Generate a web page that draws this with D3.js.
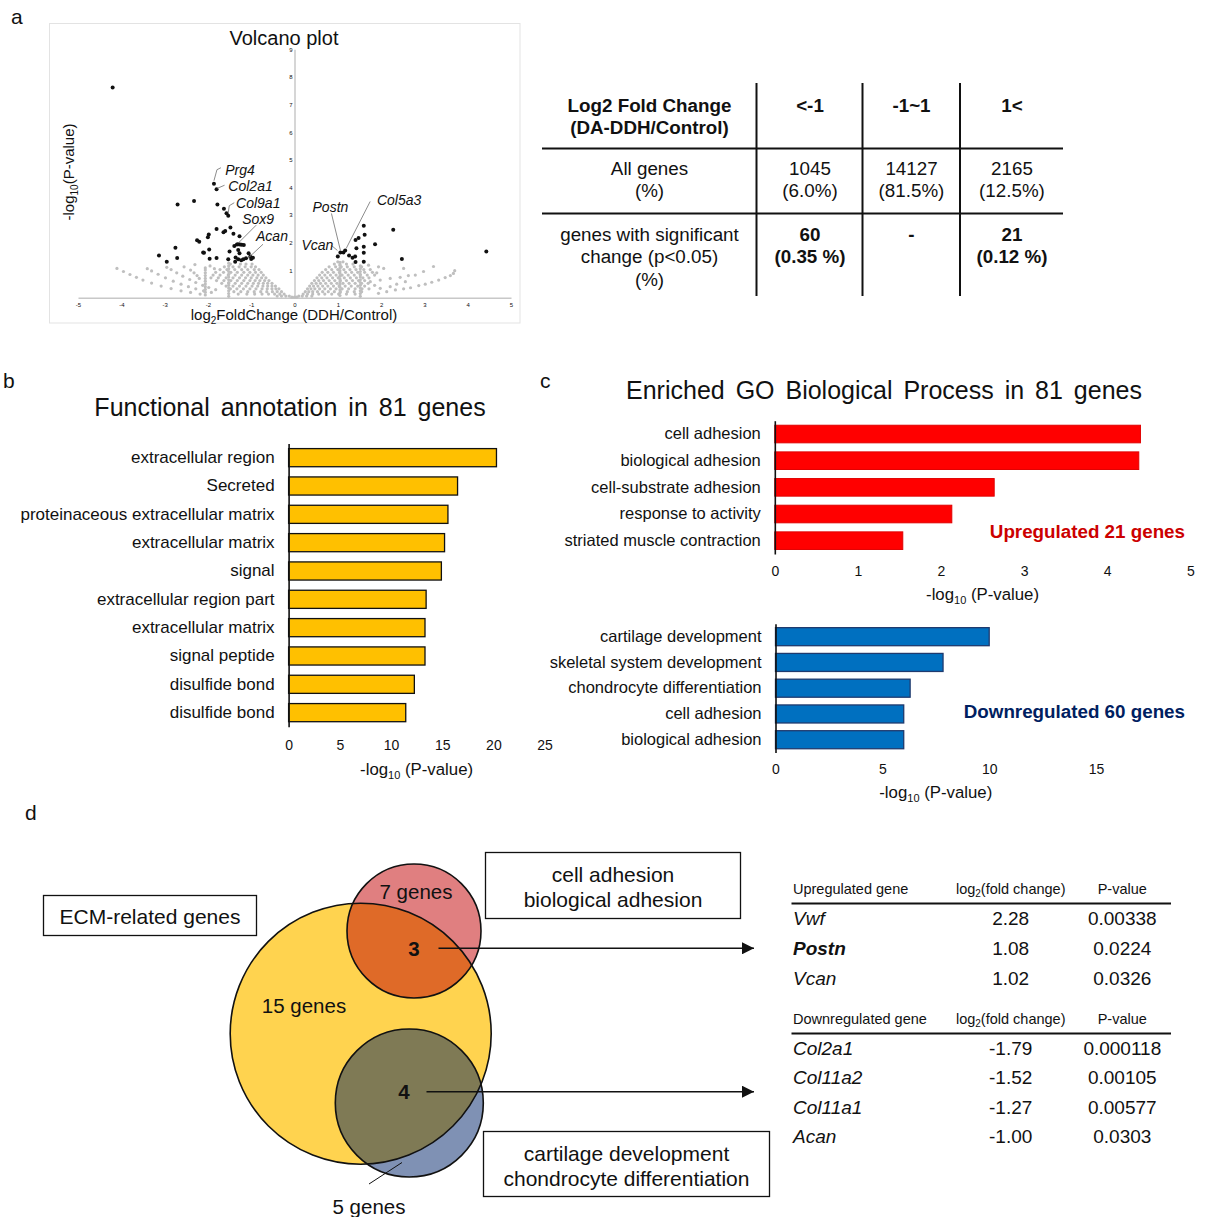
<!DOCTYPE html>
<html><head><meta charset="utf-8">
<script src="https://cdn.jsdelivr.net/npm/d3@7"></script>
<style>
body{margin:0;background:#fff;}
svg text{font-family:"Liberation Sans",Arial,sans-serif;fill:#111;}
</style>
</head><body>
<svg id="fig" width="1206" height="1217"></svg>
<script>
// ---------- Panel a: volcano plot ----------
// significant genes [log2FC, -log10 p]
const volcanoSig = [
  [-4.20,7.62],[-2.70,3.38],[-2.32,3.50],[-1.86,4.13],[-1.80,3.93],[-1.78,3.38],[-1.63,3.22],
  [-1.57,3.06],[-1.53,2.97],[-1.80,2.49],[-1.64,2.37],[-1.60,2.42],[-1.48,2.54],[-1.41,2.32],
  [-1.27,2.23],[-1.98,2.29],[-2.00,2.19],[-2.25,2.08],[-2.20,2.03],[-2.75,1.81],[-3.13,1.53],
  [-2.95,1.30],[-2.71,1.44],[-2.11,1.64],[-2.09,1.63],[-1.97,1.75],[-1.96,1.41],[-1.80,1.44],
  [-1.53,1.39],[-1.50,1.67],[-1.39,1.87],[-1.33,1.93],[-1.30,1.94],[-1.26,1.93],[-1.22,1.92],
  [-1.17,1.91],[-1.30,1.73],[-1.27,1.61],[-1.36,1.46],[-1.37,1.30],[-1.30,1.39],[-1.23,1.36],
  [-1.18,1.39],[-1.12,1.43],[-1.06,1.61],[-1.02,1.49],[-1.00,1.40],[-0.96,1.45],
  [1.00,1.49],[1.06,1.64],[1.13,1.64],[1.17,1.71],[1.26,1.53],[1.34,1.45],[1.41,2.09],
  [1.48,2.16],[1.60,2.61],[1.62,2.28],[1.43,1.79],[1.60,1.85],[1.60,1.63],[1.40,1.49],
  [1.41,1.29],[1.60,1.30],[1.86,1.94],[2.28,2.46],[2.48,1.40],[4.43,1.67]
];
// non-significant genes, listed by rows of equal -log10 p: [y, [x...]]
const volcanoBgRows = [
  [1.22,[-1.48,-1.25,-1.12,-0.98]],
  [1.12,[-1.62,-1.42,-1.28,-1.14,-1.0,-0.9]],
  [1.02,[-1.72,-1.56,-1.38,-1.22,-1.08,-0.93,-0.82]],
  [0.92,[-1.82,-1.64,-1.47,-1.32,-1.17,-1.03,-0.9,-0.77]],
  [0.82,[-1.88,-1.72,-1.53,-1.37,-1.22,-1.08,-0.96,-0.84,-0.72]],
  [0.72,[-1.93,-1.76,-1.58,-1.42,-1.27,-1.13,-1.0,-0.87,-0.76,-0.66]],
  [0.62,[-1.8,-1.63,-1.47,-1.32,-1.17,-1.03,-0.91,-0.8,-0.69,-0.59]],
  [0.52,[-1.68,-1.52,-1.37,-1.22,-1.08,-0.95,-0.83,-0.72,-0.62,-0.52]],
  [0.42,[-1.58,-1.42,-1.27,-1.12,-0.98,-0.85,-0.73,-0.62,-0.52,-0.44]],
  [0.32,[-1.48,-1.33,-1.18,-1.03,-0.89,-0.75,-0.63,-0.52,-0.43,-0.36]],
  [0.22,[-1.4,-1.24,-1.08,-0.93,-0.78,-0.64,-0.51,-0.4,-0.3]],
  [0.13,[-1.3,-1.1,-0.92,-0.75,-0.6,-0.46,-0.34,-0.24]],
  [0.06,[-0.4,-0.3,-0.2,-0.12]],
  [1.30,[1.0,1.12]],
  [1.22,[0.92,1.05,1.2,1.35]],
  [1.12,[0.8,0.95,1.08,1.22,1.38,1.55]],
  [1.02,[0.72,0.86,1.0,1.14,1.28,1.42,1.6,1.75]],
  [0.92,[0.64,0.77,0.9,1.04,1.18,1.32,1.46,1.62,1.8]],
  [0.82,[0.58,0.7,0.83,0.96,1.1,1.24,1.38,1.52,1.68,1.85]],
  [0.72,[0.52,0.63,0.75,0.88,1.01,1.15,1.29,1.43,1.58,1.72]],
  [0.62,[0.46,0.56,0.67,0.8,0.93,1.06,1.2,1.34,1.48,1.62]],
  [0.52,[0.4,0.5,0.6,0.72,0.85,0.98,1.12,1.26,1.4,1.55,1.7]],
  [0.42,[0.35,0.44,0.54,0.65,0.77,0.9,1.03,1.17,1.31,1.46,1.62]],
  [0.32,[0.3,0.38,0.47,0.58,0.7,0.83,0.96,1.1,1.25,1.4,1.56,1.72]],
  [0.22,[0.25,0.33,0.42,0.53,0.65,0.78,0.92,1.06,1.22,1.38,1.55]],
  [0.13,[0.2,0.3,0.42,0.56,0.7,0.86,1.02,1.2,1.4]],
  [0.06,[0.1,0.18,0.28,0.4]],
  [0.02,[-0.06,0.0,0.05]]
];
// vertical streaks of genes sharing one fold change: [x, [y...]]
const volcanoBgCols = [
  [-2.06,[0.1,0.2,0.3,0.4,0.5,0.6,0.7,0.8,0.9,1.0,1.08]],
  [-1.52,[0.05,0.15,0.25,0.35,0.45,0.55,0.65,0.75,0.85,0.95,1.05,1.15,1.25]],
  [1.05,[0.08,0.18,0.28,0.38,0.48,0.58,0.68,0.78,0.88,0.98,1.08,1.18,1.28]],
  [1.52,[0.05,0.15,0.25,0.35,0.45,0.55,0.65,0.75,0.85,0.95,1.05,1.15]]
];
// sparse outer genes
const volcanoBgOuter = [
  [-4.10,1.06],[-3.95,0.95],[-3.80,0.84],[-3.65,0.74],[-3.50,0.64],[-3.30,0.53],[-3.08,0.42],
  [-2.85,0.33],[-2.62,0.25],[-2.40,0.19],[-2.18,0.13],
  [-3.40,1.05],[-3.30,0.97],[-3.15,0.85],[-2.98,0.72],[-2.80,0.60],[-2.62,0.49],[-2.45,0.40],
  [-2.28,0.32],[-2.10,0.25],[-1.92,0.19],
  [-2.95,1.10],[-2.85,1.02],[-2.72,0.90],[-2.58,0.78],[-2.42,0.66],[-2.28,0.55],[-2.12,0.45],
  [-1.98,0.37],[-1.82,0.29],
  [-2.55,1.12],[-2.40,1.00],[-2.32,0.90],[-2.25,0.80],[-2.20,0.70],[-2.30,1.20],[-1.95,1.15],[-1.85,1.05],
  [1.94,0.16],[2.13,0.22],[2.33,0.28],[2.52,0.32],[2.68,0.36],[2.87,0.44],[3.02,0.49],[3.17,0.56],
  [3.33,0.64],[3.48,0.73],[3.60,0.80],[3.67,0.88],[3.70,0.98],
  [1.75,0.58],[1.98,0.64],[2.21,0.70],[2.44,0.74],[2.63,0.80],[2.79,0.82],[2.98,0.95],[3.21,1.13],[2.52,1.06],
  [1.98,0.34],[2.21,0.40],[2.36,0.49],[2.56,0.58],[1.94,1.12],[1.71,1.18],[2.06,1.06],[1.85,0.45],[1.9,0.9]
];
const volcanoXTicks = [-5,-4,-3,-2,-1,0,1,2,3,4,5];
const volcanoYTicks = [1,2,3,4,5,6,7,8,9];
// labelled genes and the point each label refers to
const labelledGenes = [
  {gene:"Prg4",   fc:-1.86, p:4.13},
  {gene:"Col2a1", fc:-1.80, p:3.93},
  {gene:"Col9a1", fc:-1.53, p:2.97},
  {gene:"Sox9",   fc:-1.30, p:1.94},
  {gene:"Acan",   fc:-1.12, p:1.43},
  {gene:"Postn",  fc:1.13,  p:1.64},
  {gene:"Col5a3", fc:1.17,  p:1.71},
  {gene:"Vcan",   fc:1.06,  p:1.64}
];

// ---------- Panel a: count table ----------
const fcHeader = ["Log2 Fold Change|(DA-DDH/Control)", "<-1", "-1~1", "1<"];
const allGenes = ["All genes|(%)", "1045|(6.0%)", "14127|(81.5%)", "2165|(12.5%)"];
const sigGenes = ["genes with significant|change (p<0.05)|(%)", "60|(0.35 %)", "-", "21|(0.12 %)"];

// ---------- Panel b: functional annotation ----------
const annotTerms = ["extracellular region","Secreted","proteinaceous extracellular matrix","extracellular matrix",
  "signal","extracellular region part","extracellular matrix ","signal peptide","disulfide bond","disulfide bond "];
const annotValues = [20.3,16.5,15.56,15.23,14.92,13.43,13.32,13.32,12.28,11.44];
const annotTicks = [0,5,10,15,20,25];

// ---------- Panel c: GO biological process ----------
const upTerms = ["cell adhesion","biological adhesion","cell-substrate adhesion","response to activity","striated muscle contraction"];
const upValues = [4.40,4.38,2.64,2.13,1.54];
const upTicks = [0,1,2,3,4,5];
const downTerms = ["cartilage development","skeletal system development","chondrocyte differentiation","cell adhesion","biological adhesion"];
const downValues = [10.0,7.84,6.3,6.0,6.0];
const downTicks = [0,5,10,15];

// ---------- Panel d: Venn counts and gene tables ----------
const vennLabels = {ecm:"15 genes", adhesion:"7 genes", adhesionShared:"3", cartilageShared:"4", cartilage:"5 genes"};
const tableCols = ["log2(fold change)", "P-value"];
const upGenes = ["Vwf","Postn","Vcan"];
const upFC = [2.28,1.08,1.02];
const upP = ["0.00338","0.0224","0.0326"];
const downGenes = ["Col2a1","Col11a2","Col11a1","Acan"];
const downFC = [-1.79,-1.52,-1.27,-1.00];
const downP = ["0.000118","0.00105","0.00577","0.0303"];

// =====================================================
const svg = d3.select("#fig");
const FONT = "Liberation Sans, Arial, sans-serif";

function textParts(sel, parts, subSize){
  // parts: [[text, isSubscript], ...]
  parts.forEach(([t, s], i) => {
    const ts = sel.append("tspan").text(t);
    if (s) ts.attr("font-size", subSize).attr("dy", 4);
    else if (i > 0 && parts[i-1][1]) ts.attr("dy", -4);
  });
  return sel;
}

// panel letters
[["a",11,24],["b",3,388],["c",540,388],["d",25,820]].forEach(([t,x,y]) =>
  svg.append("text").attr("x",x).attr("y",y).attr("font-size",21).text(t));

// ---------- volcano ----------
{
  const g = svg.append("g");
  g.append("rect").attr("x",49.5).attr("y",23.5).attr("width",470.5).attr("height",299.5)
    .attr("fill","none").attr("stroke","#e3e3e3");
  const x = d3.scaleLinear().domain([-5,5]).range([78,511]);
  const y = d3.scaleLinear().domain([0,9]).range([297.7,49.3]);

  const xa = g.append("g").attr("transform","translate(0,297.7)")
    .call(d3.axisBottom(x).tickValues(volcanoXTicks).tickSize(0).tickPadding(5).tickFormat(d=>String(d)));
  xa.select(".domain").attr("stroke","#c8c8c8").attr("stroke-width",1.5);
  xa.selectAll("text").attr("font-size",6).attr("fill","#9a9a9a").attr("font-family",FONT);

  const ya = g.append("g").attr("transform",`translate(${x(0)},0)`)
    .call(d3.axisLeft(y).tickValues(volcanoYTicks).tickSize(0).tickPadding(2).tickFormat(d=>String(d)));
  ya.select(".domain").attr("stroke","#c8c8c8").attr("stroke-width",1.5);
  ya.selectAll("text").attr("font-size",6).attr("fill","#9a9a9a").attr("font-family",FONT);

  const bg = [];
  volcanoBgRows.forEach(([yy, xs]) => xs.forEach(xx => bg.push([xx, yy])));
  volcanoBgCols.forEach(([xx, ys]) => ys.forEach(yy => bg.push([xx, yy])));
  volcanoBgOuter.forEach(p => bg.push(p));
  g.append("g").selectAll("circle").data(bg).join("circle")
    .attr("cx",d=>x(d[0])).attr("cy",d=>y(d[1])).attr("r",1.6).attr("fill","#bfbfbf");
  g.append("g").selectAll("circle").data(volcanoSig).join("circle")
    .attr("cx",d=>x(d[0])).attr("cy",d=>y(d[1])).attr("r",2).attr("fill","#111");

  // gene labels with leader lines (offsets from the labelled point)
  const labelLayout = {
    Prg4:   {dx:26, dy:-14, ldr:[[0,-3],[3,-14],[7,-16]]},
    Col2a1: {dx:34, dy:-3,  ldr:[[1,-1],[8,-4]]},
    Col9a1: {dx:30, dy:-13, ldr:[[0,-3],[1,-10],[6,-13]]},
    Sox9:   {dx:20, dy:-25.5, ldr:[[0,-1],[18,-19]]},
    Acan:   {dx:26, dy:-22, ldr:[[2,0],[17,-14]]},
    Postn:  {dx:-13,dy:-45, ldr:[[-3,-2],[-12,-39]]},
    Col5a3: {dx:54, dy:-51, ldr:[[1,-2],[25,-49]]},
    Vcan:   {dx:-23,dy:-7,  ldr:[[-3,-2],[-9,-7]]}
  };
  labelledGenes.forEach(d => {
    const L = labelLayout[d.gene], px = x(d.fc), py = y(d.p);
    g.append("path").attr("d", d3.line()(L.ldr.map(([a,b]) => [px+a, py+b])))
      .attr("fill","none").attr("stroke","#7f7f7f").attr("stroke-width",0.9);
    g.append("text").attr("x",px+L.dx).attr("y",py+L.dy).attr("text-anchor","middle")
      .attr("dominant-baseline","central").attr("font-size",14).attr("font-style","italic").text(d.gene);
  });

  g.append("text").attr("x",284).attr("y",45).attr("text-anchor","middle").attr("font-size",20).text("Volcano plot");
  textParts(g.append("text").attr("x",294).attr("y",320).attr("text-anchor","middle").attr("font-size",15),
    [["log",false],["2",true],["FoldChange (DDH/Control)",false]], 10);
  textParts(g.append("text").attr("transform","translate(74,172) rotate(-90)").attr("text-anchor","middle").attr("font-size",15),
    [["-log",false],["10",true],["(P-value)",false]], 10);
}

// ---------- table in panel a ----------
{
  const g = svg.append("g").attr("font-size",18.8);
  const colX = [649.5, 810, 911.5, 1012];
  const rowTop = [105, 168.3, 234];
  const lineGap = 22.5;
  [fcHeader, allGenes, sigGenes].forEach((row, ri) => {
    row.forEach((cell, ci) => {
      const bold = ri === 0 || (ri === 2 && ci > 0);
      cell.split("|").forEach((ln, li) => {
        g.append("text").attr("x",colX[ci]).attr("y",rowTop[ri] + li*lineGap)
          .attr("text-anchor","middle").attr("dominant-baseline","central")
          .attr("font-weight", bold ? "bold" : "normal").text(ln);
      });
    });
  });
  [756.5, 862.5, 960].forEach(xv => g.append("line").attr("x1",xv).attr("x2",xv).attr("y1",83).attr("y2",296)
    .attr("stroke","#111").attr("stroke-width",2));
  [148.5, 213.5].forEach(yv => g.append("line").attr("x1",542).attr("x2",1063).attr("y1",yv).attr("y2",yv)
    .attr("stroke","#111").attr("stroke-width",2));
}

// ---------- horizontal bar chart helper ----------
function barChart({terms, values, ticks, domain, xRange, yRange, inner, fill, stroke, strokeW,
                   labelSize, tickY, titleY}){
  const g = svg.append("g");
  const x = d3.scaleLinear().domain(domain).range(xRange);
  const y = d3.scaleBand().domain(terms).range(yRange).paddingInner(inner).paddingOuter(inner/2);
  g.selectAll("rect").data(terms).join("rect")
    .attr("x",x(0)).attr("y",d=>y(d)).attr("height",y.bandwidth())
    .attr("width",(d,i)=>x(values[i]) - x(0))
    .attr("fill",fill).attr("stroke",stroke).attr("stroke-width",strokeW);
  const ya = g.append("g").attr("transform",`translate(${x(0)},0)`)
    .call(d3.axisLeft(y).tickSize(0).tickPadding(14));
  ya.select(".domain").attr("stroke","#111").attr("stroke-width",1.6);
  ya.selectAll("text").attr("font-size",labelSize).attr("font-family",FONT).attr("fill","#111");
  const xa = g.append("g").attr("transform",`translate(0,${tickY})`)
    .call(d3.axisBottom(x).tickValues(ticks).tickSize(0).tickPadding(0).tickFormat(d=>String(d)));
  xa.select(".domain").remove();
  xa.selectAll("text").attr("font-size",14).attr("font-family",FONT).attr("fill","#111").attr("dy","0.35em");
  const cx = (xRange[0] + x(ticks[ticks.length-1])) / 2;
  textParts(g.append("text").attr("x",cx).attr("y",titleY).attr("text-anchor","middle").attr("font-size",16.8),
    [["-log",false],["10",true],[" (P-value)",false]], 11);
  return g;
}

// ---------- panel b ----------
svg.append("text").attr("x",290).attr("y",416).attr("text-anchor","middle").attr("font-size",25)
  .attr("word-spacing",4).text("Functional annotation in 81 genes");
barChart({terms:annotTerms, values:annotValues, ticks:annotTicks, domain:[0,25], xRange:[288.6,544.6],
  yRange:[443.5,726.8], inner:0.36, fill:"#ffc000", stroke:"#111", strokeW:1.3,
  labelSize:17, tickY:745, titleY:775});

// ---------- panel c ----------
svg.append("text").attr("x",884).attr("y",399).attr("text-anchor","middle").attr("font-size",25)
  .attr("word-spacing",4).text("Enriched GO Biological Process in 81 genes");
barChart({terms:upTerms, values:upValues, ticks:upTicks, domain:[0,5], xRange:[774.8,1190.3],
  yRange:[420.7,554], inner:0.34, fill:"#ff0000", stroke:"#e00000", strokeW:1,
  labelSize:16.5, tickY:571.5, titleY:600});
svg.append("text").attr("x",1185).attr("y",531.5).attr("text-anchor","end").attr("dominant-baseline","central")
  .attr("font-size",18.8).attr("font-weight","bold").style("fill","#cc0000").text("Upregulated 21 genes");
barChart({terms:downTerms, values:downValues, ticks:downTicks, domain:[0,20], xRange:[775.5,1202.9],
  yRange:[623.8,752.6], inner:0.30, fill:"#0070c0", stroke:"#1f3a6e", strokeW:1.3,
  labelSize:16.5, tickY:769.3, titleY:798});
svg.append("text").attr("x",1185).attr("y",711.5).attr("text-anchor","end").attr("dominant-baseline","central")
  .attr("font-size",18.8).attr("font-weight","bold").style("fill","#002060").text("Downregulated 60 genes");

// ---------- panel d: Venn diagram ----------
{
  const g = svg.append("g");
  const ecm = {cx:360.7, cy:1033.7, r:130.5};
  const adh = {cx:414, cy:931, r:67};
  const car = {cx:409.3, cy:1103, r:74};
  const defs = svg.append("defs");
  defs.append("clipPath").attr("id","clipAdh").append("circle").attr("cx",adh.cx).attr("cy",adh.cy).attr("r",adh.r);
  defs.append("clipPath").attr("id","clipCar").append("circle").attr("cx",car.cx).attr("cy",car.cy).attr("r",car.r);
  const circ = (c, fill, clip) => {
    const el = g.append("circle").attr("cx",c.cx).attr("cy",c.cy).attr("r",c.r).attr("fill",fill);
    if (clip) el.attr("clip-path",`url(#${clip})`);
    return el;
  };
  circ(ecm, "#ffd34f");
  circ(adh, "#e07f80");
  circ(car, "#7f91b4");
  circ(ecm, "#df6a28", "clipAdh");
  circ(ecm, "#7f7a55", "clipCar");
  [ecm, adh, car].forEach(c => g.append("circle").attr("cx",c.cx).attr("cy",c.cy).attr("r",c.r)
    .attr("fill","none").attr("stroke","#111").attr("stroke-width",1.6));

  const t = (x,y,s,bold) => g.append("text").attr("x",x).attr("y",y).attr("text-anchor","middle")
    .attr("dominant-baseline","central").attr("font-size",20.5).attr("font-weight",bold?"bold":"normal").text(s);
  t(416, 891, vennLabels.adhesion);
  t(414, 948, vennLabels.adhesionShared, true);
  t(304, 1005, vennLabels.ecm);
  t(404, 1091.5, vennLabels.cartilageShared, true);
  t(369, 1206, vennLabels.cartilage);
  g.append("line").attr("x1",369).attr("y1",1184).attr("x2",402).attr("y2",1162.5).attr("stroke","#111").attr("stroke-width",1);

  // arrows to the gene tables
  defs.append("marker").attr("id","arrowHead").attr("viewBox","0 0 10 10").attr("refX",10).attr("refY",5)
    .attr("markerWidth",12).attr("markerHeight",12).attr("markerUnits","userSpaceOnUse").attr("orient","auto")
    .append("path").attr("d","M0,0L10,5L0,10Z").attr("fill","#111");
  [[438.5,948.3],[426.5,1091.7]].forEach(([x0,y0]) => g.append("line").attr("x1",x0).attr("y1",y0)
    .attr("x2",754).attr("y2",y0).attr("stroke","#111").attr("stroke-width",1.6).attr("marker-end","url(#arrowHead)"));

  // labelled boxes
  const box = (x0,y0,x1,y1,lines,ys) => {
    g.append("rect").attr("x",x0).attr("y",y0).attr("width",x1-x0).attr("height",y1-y0)
      .attr("fill","#fff").attr("stroke","#111").attr("stroke-width",1.3);
    lines.forEach((ln,i) => g.append("text").attr("x",(x0+x1)/2).attr("y",ys[i]).attr("text-anchor","middle")
      .attr("dominant-baseline","central").attr("font-size",21).text(ln));
  };
  box(43.5,895.5,256.5,935.5,["ECM-related genes"],[916]);
  box(485.5,852.5,740.5,918.5,["cell adhesion","biological adhesion"],[874.5,899.5]);
  box(483.5,1131.5,769.5,1196.5,["cartilage development","chondrocyte differentiation"],[1153.5,1178]);
}

// ---------- panel d: gene tables ----------
{
  const g = svg.append("g");
  const xGene = 793, xFC = 1010.7, xP = 1122.3;
  function geneTable(title, headY, lineY, genes, fcs, ps, rowY0, step){
    g.append("text").attr("x",xGene).attr("y",headY).attr("dominant-baseline","central").attr("font-size",14.5).text(title);
    textParts(g.append("text").attr("x",xFC).attr("y",headY).attr("dominant-baseline","central")
      .attr("text-anchor","middle").attr("font-size",14.5), [["log",false],["2",true],["(fold change)",false]], 10);
    g.append("text").attr("x",xP).attr("y",headY).attr("dominant-baseline","central").attr("text-anchor","middle")
      .attr("font-size",14.5).text(tableCols[1]);
    g.append("line").attr("x1",791.5).attr("x2",1171).attr("y1",lineY).attr("y2",lineY).attr("stroke","#111").attr("stroke-width",2);
    genes.forEach((gn,i) => {
      const yy = rowY0 + i*step;
      g.append("text").attr("x",xGene).attr("y",yy).attr("dominant-baseline","central").attr("font-size",19)
        .attr("font-style","italic").attr("font-weight", gn === "Postn" ? "bold" : "normal").text(gn);
      g.append("text").attr("x",xFC).attr("y",yy).attr("dominant-baseline","central").attr("text-anchor","middle")
        .attr("font-size",19).text(fcs[i].toFixed(2));
      g.append("text").attr("x",xP).attr("y",yy).attr("dominant-baseline","central").attr("text-anchor","middle")
        .attr("font-size",19).text(ps[i]);
    });
  }
  geneTable("Upregulated gene", 889, 903.5, upGenes, upFC, upP, 918.5, 30);
  geneTable("Downregulated gene", 1019, 1033.5, downGenes, downFC, downP, 1048.5, 29.4);
}
</script>
</body></html>
